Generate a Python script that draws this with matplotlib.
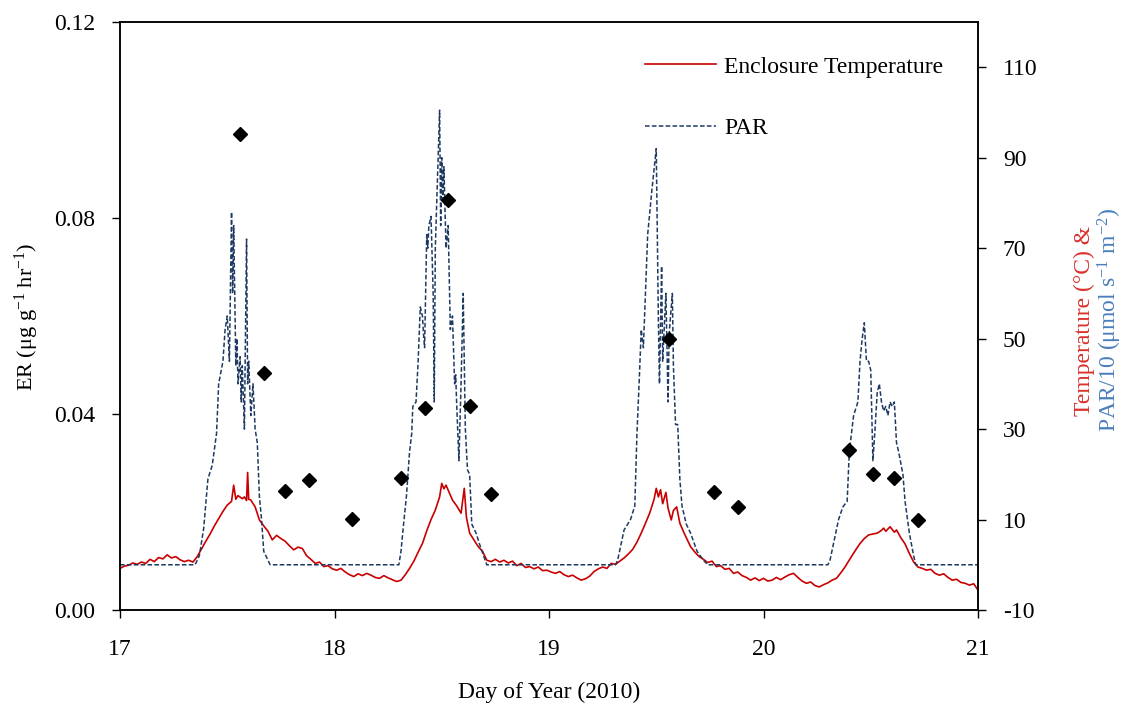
import numpy as np
import matplotlib.pyplot as plt

plt.rcParams['font.family'] = ['Liberation Serif', 'DejaVu Serif']
plt.rcParams['mathtext.fontset'] = 'custom'
plt.rcParams['mathtext.rm'] = 'Liberation Serif'
plt.rcParams['mathtext.it'] = 'Liberation Serif:italic'
plt.rcParams['mathtext.bf'] = 'Liberation Serif:bold'
plt.rcParams['axes.unicode_minus'] = False

# ER measurements (diamonds), left axis
er_day = [17.56, 17.67, 17.77, 17.88, 18.08, 18.31, 18.42, 18.53, 18.63, 18.73,
          19.56, 19.77, 19.88, 20.40, 20.51, 20.61, 20.72]
er_val = [0.0971, 0.0484, 0.0243, 0.0265, 0.0186, 0.0269, 0.0412, 0.0837, 0.0416, 0.0237,
          0.0553, 0.0241, 0.0210, 0.0327, 0.0278, 0.0269, 0.0184]

# enclosure temperature (degC), right axis
temp_day = [17.00, 17.02, 17.04, 17.06, 17.08, 17.10, 17.12, 17.14, 17.16, 17.18,
            17.20, 17.22, 17.24, 17.26, 17.28, 17.30, 17.32, 17.34, 17.36, 17.38,
            17.40, 17.42, 17.44, 17.46, 17.48, 17.50, 17.52, 17.53, 17.54, 17.55,
            17.57, 17.58, 17.59, 17.595, 17.60, 17.61, 17.63, 17.65, 17.67, 17.69,
            17.71, 17.73, 17.75, 17.77, 17.79, 17.81, 17.83, 17.85, 17.87, 17.89,
            17.91, 17.93, 17.95, 17.97, 17.99, 18.01, 18.03, 18.05, 18.07, 18.09,
            18.11, 18.13, 18.15, 18.17, 18.19, 18.21, 18.23, 18.25, 18.27, 18.29,
            18.31, 18.33, 18.35, 18.37, 18.39, 18.41, 18.43, 18.45, 18.47, 18.49,
            18.50, 18.51, 18.52, 18.53, 18.55, 18.57, 18.59, 18.605, 18.615, 18.63,
            18.65, 18.67, 18.69, 18.71, 18.73, 18.75, 18.77, 18.79, 18.81, 18.83,
            18.85, 18.87, 18.89, 18.91, 18.93, 18.95, 18.97, 18.99, 19.01, 19.03,
            19.05, 19.07, 19.09, 19.11, 19.13, 19.15, 19.17, 19.19, 19.21, 19.23,
            19.25, 19.27, 19.29, 19.31, 19.33, 19.35, 19.37, 19.39, 19.41, 19.43,
            19.45, 19.47, 19.49, 19.50, 19.51, 19.52, 19.53, 19.545, 19.555, 19.57,
            19.58, 19.595, 19.61, 19.63, 19.645, 19.66, 19.68, 19.70, 19.72, 19.74,
            19.76, 19.78, 19.80, 19.82, 19.84, 19.86, 19.88, 19.90, 19.92, 19.94,
            19.96, 19.98, 20.00, 20.02, 20.04, 20.06, 20.08, 20.10, 20.12, 20.14,
            20.16, 20.18, 20.20, 20.22, 20.24, 20.26, 20.28, 20.30, 20.32, 20.34,
            20.36, 20.38, 20.39, 20.41, 20.43, 20.45, 20.47, 20.49, 20.51, 20.53,
            20.55, 20.56, 20.57, 20.59, 20.61, 20.62, 20.64, 20.66, 20.68, 20.70,
            20.72, 20.74, 20.76, 20.78, 20.80, 20.82, 20.84, 20.86, 20.88, 20.90,
            20.92, 20.94, 20.96, 20.98, 21.00]
temp_c = [-0.8, -0.3, -0.1, 0.4, 0.1, 0.6, 0.3, 1.2, 0.7, 1.6,
          1.3, 2.2, 1.5, 1.8, 1.1, 0.7, 1.0, 0.6, 1.8, 3.5,
          5.2, 6.8, 8.6, 10.2, 11.8, 13.2, 14.0, 17.6, 14.5, 15.3,
          14.6, 15.0, 14.2, 20.4, 14.5, 14.3, 12.8, 9.9, 8.6, 7.4,
          5.5, 6.5, 5.8, 5.2, 4.2, 3.3, 3.9, 3.6, 2.0, 1.2,
          0.3, 0.6, -0.4, -0.2, -0.9, -1.2, -0.8, -1.6, -2.2, -2.6,
          -2.0, -2.4, -1.9, -2.3, -2.8, -3.0, -2.4, -2.9, -3.3, -3.7,
          -3.4, -2.2, -0.8, 0.8, 2.8, 4.7, 7.5, 10.0, 12.1, 15.0,
          18.0, 16.8, 17.6, 16.5, 14.3, 13.0, 11.4, 16.9, 10.5, 7.0,
          5.5, 4.0, 3.0, 1.0, 0.7, 1.2, 0.6, 1.0, 0.4, 0.8,
          -0.2, 0.3, -0.6, -0.4, -0.9, -0.5, -1.3, -1.2, -1.6, -1.9,
          -1.5, -2.2, -2.6, -2.3, -2.9, -3.4, -3.1, -2.5, -1.5, -0.9,
          -0.5, -0.8, 0.3, 0.1, 0.8, 1.5, 2.4, 3.4, 5.0, 7.0,
          9.2, 11.5, 14.5, 16.9, 15.0, 16.6, 13.5, 16.0, 12.5, 9.9,
          12.0, 12.8, 9.2, 7.0, 5.5, 4.0, 2.8, 1.8, 1.2, 0.5,
          0.8, -0.4, -0.2, -1.0, -0.8, -1.9, -1.6, -2.4, -2.8, -3.4,
          -2.9, -3.5, -3.0, -3.6, -3.4, -2.8, -3.3, -2.7, -2.2, -1.9,
          -2.8, -3.6, -4.1, -3.8, -4.6, -4.9, -4.4, -4.0, -3.4, -3.0,
          -1.8, -0.5, 0.3, 1.8, 3.3, 4.7, 5.8, 6.6, 6.8, 7.0,
          7.6, 8.1, 7.4, 8.4, 7.2, 7.7, 6.0, 4.6, 2.5, 0.6,
          -0.5, -0.8, -1.2, -1.0, -1.9, -2.3, -2.0, -2.8, -3.4, -3.2,
          -3.9, -4.1, -4.5, -4.2, -5.6]

# PAR/10, right axis
par_day = [17.00, 17.35, 17.37, 17.39, 17.41, 17.43, 17.45, 17.46, 17.48, 17.49,
           17.50, 17.505, 17.51, 17.52, 17.525, 17.53, 17.54, 17.545, 17.55, 17.56,
           17.565, 17.57, 17.58, 17.59, 17.595, 17.60, 17.61, 17.62, 17.63, 17.64,
           17.65, 17.66, 17.67, 17.68, 17.70,
           18.30, 18.31, 18.32, 18.335, 18.35, 18.36, 18.365, 18.38, 18.39, 18.40,
           18.41, 18.415, 18.42, 18.43, 18.435, 18.44, 18.45, 18.46, 18.465, 18.47,
           18.48, 18.49, 18.495, 18.50, 18.505, 18.51, 18.52, 18.53, 18.54, 18.55,
           18.56, 18.565, 18.57, 18.58, 18.59, 18.60, 18.605, 18.61, 18.62, 18.63,
           18.64, 18.66, 18.68, 18.71,
           19.31, 19.32, 19.35, 19.38, 19.40, 19.41, 19.42, 19.43, 19.44, 19.46,
           19.48, 19.50, 19.51, 19.515, 19.525, 19.53, 19.545, 19.555, 19.56, 19.575,
           19.58, 19.59, 19.60, 19.61, 19.62, 19.64, 19.66, 19.69, 19.72, 19.74,
           20.30, 20.31, 20.33, 20.35, 20.37, 20.39, 20.40, 20.42, 20.44, 20.45,
           20.46, 20.47, 20.48, 20.49, 20.50, 20.51, 20.52, 20.53, 20.54, 20.55,
           20.56, 20.57, 20.58, 20.59, 20.60, 20.61, 20.62, 20.63, 20.65, 20.66,
           20.68, 20.70, 20.71, 21.00]
par_10 = [0, 0, 2, 8, 19, 22, 29, 40, 45, 52,
          55, 50, 45, 78, 60, 75, 44, 50, 40, 46,
          36, 44, 30, 72, 40, 45, 33, 40, 30, 27,
          15, 10, 3, 2, 0,
          0, 3, 8, 15, 25, 29, 35, 36, 45, 57,
          55, 51, 48, 73, 70, 75, 77, 60, 36, 70,
          85, 100.5, 75, 90, 80, 88, 70, 75, 52, 55,
          40, 42, 35, 23, 40, 60, 45, 30, 21, 20,
          9, 7, 4, 0,
          0, 1, 7.7, 10, 13, 29, 40, 52, 48, 73,
          83, 92, 54, 40, 66, 45, 60, 36, 51, 60,
          44, 31, 31, 19, 13, 9, 7, 3, 1, 0,
          0, 1, 5.5, 10, 12.8, 14, 25, 33, 36, 45,
          50, 53.5, 45, 45, 43, 23, 30, 38, 40, 36,
          34, 35, 33, 36, 35, 36, 27, 25, 20, 14,
          7, 2, 0, 0]

fig = plt.figure(figsize=(11.23, 7.06), dpi=100)
ax = fig.add_axes([120 / 1123, 96 / 706, 858 / 1123, 588 / 706])
ax2 = ax.twinx()

l1, = ax2.plot(temp_day, temp_c, color='#C80000', lw=1.2, label='Enclosure Temperature')
l2, = ax2.plot(par_day, par_10, color='#1F3A62', lw=1.1, ls=(0, (3, 1.5)), label='PAR')
ax.plot(er_day, er_val, ls='none', marker='D', ms=7.5, color='black')

ax.set_zorder(ax2.get_zorder() + 1)
ax.patch.set_visible(False)

ax.set_xlim(17, 21)
ax.set_ylim(0, 0.12)
ax.set_xticks([17, 18, 19, 20, 21])
ax.set_yticks([0, 0.04, 0.08, 0.12])
ax.set_yticklabels(['0.00', '0.04', '0.08', '0.12'])
ax2.set_ylim(-10, 120)
ax2.set_yticks([-10, 10, 30, 50, 70, 90, 110])

ax.tick_params(axis='y', direction='out', length=6, width=1, pad=12, labelsize=17)
ax.tick_params(axis='x', direction='out', length=6, width=1, pad=15, labelsize=17)
ax2.tick_params(axis='y', direction='out', length=6, width=1, pad=12, labelsize=17)
for a in (ax, ax2):
    for s in a.spines.values():
        s.set_linewidth(1.1)

ax.set_xlabel('Day of Year (2010)', fontsize=17)
ax.xaxis.set_label_coords(0.5, -0.122)

fig.text(27 / 1123, 1 - 317 / 706, r'ER (μg g$^{\mathregular{-1}}$ hr$^{\mathregular{-1}}$)',
         rotation=90, ha='center', va='center', fontsize=16)
fig.text(1084 / 1123, 1 - 321 / 706, 'Temperature (°C) &', color='#D9302A',
         rotation=90, ha='center', va='center', fontsize=17)
fig.text(1110 / 1123, 1 - 320 / 706, r'PAR/10 (μmol s$^{\mathregular{-1}}$ m$^{\mathregular{-2}}$)',
         color='#4A7EBB', rotation=90, ha='center', va='center', fontsize=17)

ax2.legend(handles=[l1, l2], loc='upper left', bbox_to_anchor=(0.612, 0.942),
           frameon=False, borderpad=0, borderaxespad=0, fontsize=17,
           handlelength=3.0, handletextpad=0.35, labelspacing=1.7)

fig.savefig('out.png', dpi=100)
